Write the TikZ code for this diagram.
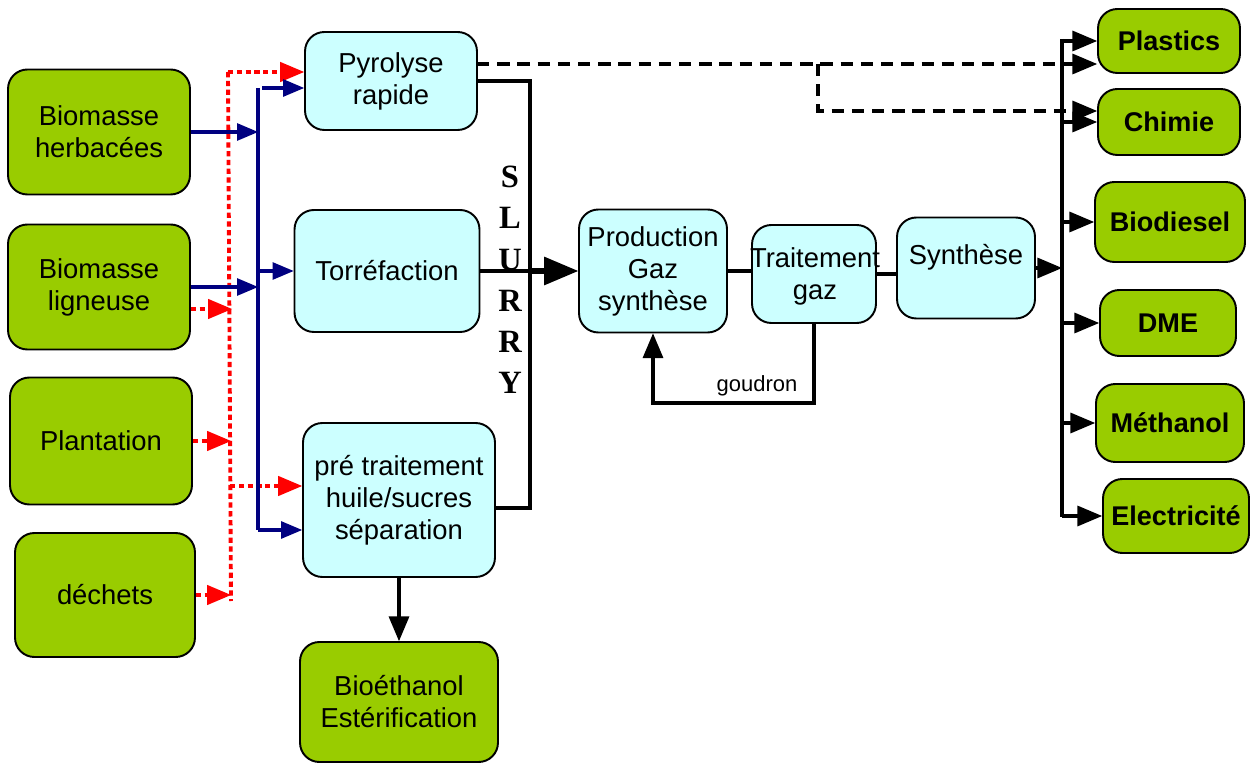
\documentclass[tikz,border=0pt]{standalone}
\usepackage{fontspec}
\setmainfont{Liberation Sans}
\newfontfamily\slurryfont{Liberation Serif}
\usetikzlibrary{arrows}
\definecolor{vert}{RGB}{153,204,0}
\definecolor{cyanclair}{RGB}{204,255,255}
\definecolor{bleunuit}{RGB}{0,0,128}

\begin{document}
\begin{tikzpicture}[x=0.02cm,y=-0.02cm,>=triangle 45,
    boite/.style={draw,line width=1.1pt,rounded corners=11pt,align=center,font=\fontsize{15.6}{18.2}\selectfont},
    src/.style={boite,fill=vert},
    proc/.style={boite,fill=cyanclair},
    prod/.style={boite,fill=vert,font=\bfseries\fontsize{15.4}{18}\selectfont},
    etiq/.style={align=center,font=\fontsize{15.6}{18.2}\selectfont},
    bleu/.style={->,bleunuit,line width=1.8pt},
    rouge/.style={->,red,line width=2.2pt,dash pattern=on 3pt off 2pt},
    noir/.style={line width=2.3pt},
    tiret/.style={->,line width=2.3pt,dash pattern=on 7pt off 4.5pt}]
      \useasboundingbox (0,0) rectangle (1251,763);
      \node[src,minimum width=3.64cm,minimum height=2.5cm] at (99,132) (herb){Biomasse\\herbacées};
      \node[src,minimum width=3.64cm,minimum height=2.5cm] at (99,287) (lign){Biomasse\\ligneuse};
      \node[src,minimum width=3.64cm,minimum height=2.54cm] at (101,441) (plant){Plantation};
      \node[src,minimum width=3.6cm,minimum height=2.48cm] at (105,595) (dech){déchets};
      \node[proc,minimum width=3.44cm,minimum height=1.96cm] at (391,81) (pyro){Pyrolyse\\rapide};
      \node[proc,minimum width=3.7cm,minimum height=2.44cm] at (387,271) (torr){Torréfaction};
      \node[proc,minimum width=3.84cm,minimum height=3.08cm] at (399,500) (pret){pré traitement\\huile/sucres\\séparation};
      \node[src,minimum width=3.96cm,minimum height=2.4cm] at (399,702) (bioe){Bioéthanol\\Estérification};
      \node[proc,minimum width=2.96cm,minimum height=2.46cm] at (653,271) (gaz){Production\\Gaz\\synthèse};
      \node[proc,minimum width=2.48cm,minimum height=1.96cm] at (814,274) (trait){};
      \node[etiq] at (815,276) (traitlbl){Traitement\\gaz};
      \node[proc,minimum width=2.76cm,minimum height=2.02cm] at (966,268) (synth){};
      \node[etiq] at (966,257) (synthlbl){Synthèse};
      \node[prod,minimum width=2.84cm,minimum height=1.28cm] at (1169,41) (plast){Plastics};
      \node[prod,minimum width=2.84cm,minimum height=1.32cm] at (1169,122) (chim){Chimie};
      \node[prod,minimum width=3cm,minimum height=1.6cm] at (1170,222) (biod){Biodiesel};
      \node[prod,minimum width=2.72cm,minimum height=1.32cm] at (1168,323) (dme){DME};
      \node[prod,minimum width=2.96cm,minimum height=1.56cm] at (1170,423) (meth){Méthanol};
      \node[prod,minimum width=2.92cm,minimum height=1.48cm] at (1176,516) (elec){Electricité};
      \node[font=\slurryfont\bfseries\fontsize{18.5}{23.5}\selectfont,align=center] at (510,280) (slurry){S\\L\\U\\R\\R\\Y};
      \node[font=\fontsize{12.5}{14}\selectfont] at (757,386) (goud){goudron};
      \coordinate (bh) at (258,88);
      \coordinate (bb) at (258,530);
      \coordinate (rh) at (228,72);
      \coordinate (rb) at (231,601);
      \coordinate (r1) at (232,309);
      \coordinate (r2) at (230,486);
      \coordinate (sh) at (530,82);
      \coordinate (sb) at (530,508);
      \coordinate (gd) at (815,403);
      \coordinate (ph) at (1062,39);
      \coordinate (pb) at (1062,517);
      \coordinate (d1) at (477,64);
      \coordinate (d2) at (818,64);
      \coordinate (d3) at (818,111);
      \draw[rouge,-] (rh) -- (rb);
      \draw[rouge] (rh) -- (rh -| pyro.west);
      \draw[rouge] (lign.east |- r1) -- (r1);
      \draw[rouge] (plant.east) -- (plant.east -| rb);
      \draw[rouge] (dech.east) -- (dech.east -| rb);
      \draw[rouge] (r2) -- (r2 -| pret.west);
      \draw[bleunuit,line width=1.8pt] (bh) -- (bb);
      \draw[bleu] ([xshift=0.08cm]bh) -- (bh -| pyro.west);
      \draw[bleu] (herb.east) -- (herb.east -| bh);
      \draw[bleu] (lign.east) -- (lign.east -| bh);
      \draw[bleu] (torr.west -| bh) -- (torr.west);
      \draw[bleu] (bb) -- (bb -| pret.west);
      \draw[noir] (pyro.east) -- (pyro.east -| sh) -- (sb) -- (sb -| pret.east);
      \draw[noir] (torr.east) -- (torr.east -| sh);
      \draw[->,line width=3.6pt] (torr.east -| sh) -- (gaz.west);
      \draw[noir] (gaz.east) -- (gaz.east -| trait.west);
      \draw[noir] (trait.east) -- (trait.east -| synth.west);
      \draw[noir,->] (trait.south) -- (trait.south |- gd) -- (gaz.south |- gd) -- (gaz.south);
      \draw[noir,->] (pret.south) -- (bioe.north);
      \draw[line width=2.4pt] (ph) -- (pb);
      \draw[noir,->] (synth.east) -- (synth.east -| ph);
      \foreach \n in {plast,chim,biod,dme,meth,elec}
        \draw[noir,->] (\n.west -| ph) -- (\n.west);
      \draw[tiret] (d1) -- (d1 -| plast.west);
      \draw[tiret] (d2) -- (d3) -- (d3 -| chim.west);
    \end{tikzpicture}
\end{document}
